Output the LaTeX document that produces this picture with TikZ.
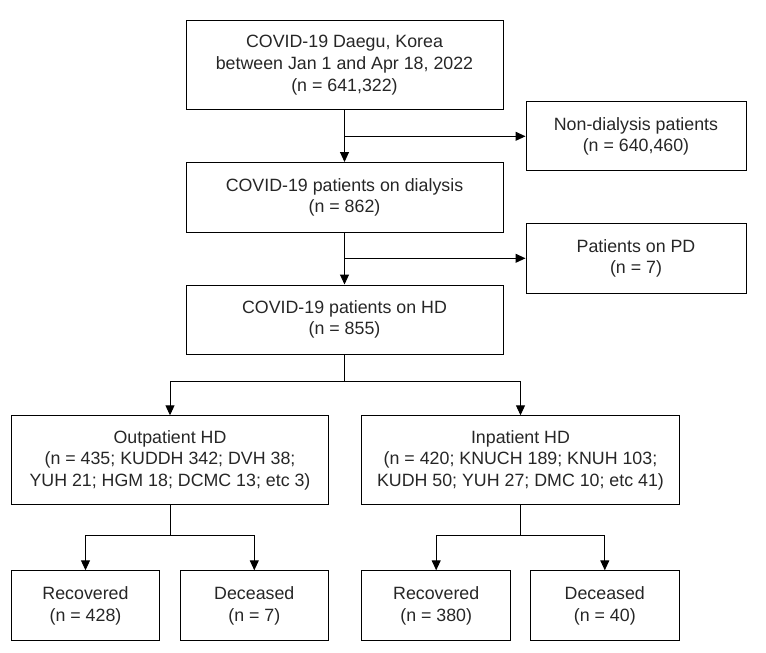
\documentclass[tikz,border=0pt]{standalone}
\usepackage{fontspec}
\setmainfont{Liberation Sans}
\usetikzlibrary{arrows.meta}
\begin{document}
\begin{tikzpicture}[x=1pt,y=-1pt,
  box/.style={draw, line width=1pt, align=center, inner sep=0pt,
    font=\fontsize{17.8}{21.7}\selectfont, text=black!85},
  arr/.style={line width=1pt, -{Triangle[length=10pt,width=9pt]}},
  ln/.style={line width=1pt}]
\useasboundingbox (0,0) rectangle (766,653);
\node[box, minimum width=317pt, minimum height=89pt] (top) at (344.5,65.3)
  {COVID-19 Daegu, Korea\\between Jan 1 and Apr 18, 2022\\(n = 641,322)};
\node[box, minimum width=220pt, minimum height=69pt] (nond) at (636,136.3)
  {Non-dialysis patients\\(n = 640,460)};
\node[box, minimum width=317pt, minimum height=70pt] (dial) at (344.5,197.5)
  {COVID-19 patients on dialysis\\(n = 862)};
\node[box, minimum width=220pt, minimum height=70pt] (pd) at (636,258.3)
  {Patients on PD\\(n = 7)};
\node[box, minimum width=317pt, minimum height=69pt] (hd) at (344.5,319.5)
  {COVID-19 patients on HD\\(n = 855)};
\node[box, minimum width=317pt, minimum height=89pt] (out) at (170,460.3)
  {Outpatient HD\\(n = 435; KUDDH 342; DVH 38;\\YUH 21; HGM 18; DCMC 13; etc 3)};
\node[box, minimum width=318pt, minimum height=89pt] (inp) at (520.5,460.3)
  {Inpatient HD\\(n = 420; KNUCH 189; KNUH 103;\\KUDH 50; YUH 27; DMC 10; etc 41)};
\node[box, minimum width=148pt, minimum height=70pt] (r1) at (85.5,605.8)
  {Recovered\\(n = 428)};
\node[box, minimum width=148pt, minimum height=70pt] (d1) at (254.3,605.8)
  {Deceased\\(n = 7)};
\node[box, minimum width=149pt, minimum height=70pt] (r2) at (436.2,605.8)
  {Recovered\\(n = 380)};
\node[box, minimum width=149pt, minimum height=70pt] (d2) at (604.8,605.8)
  {Deceased\\(n = 40)};
% main flow
\draw[arr] (top.south) -- (dial.north);
\coordinate (j1) at (top.south |- nond.west);
\draw[arr] (j1) -- (nond.west);
\draw[arr] (dial.south) -- (hd.north);
\coordinate (j2) at (dial.south |- pd.west);
\draw[arr] (j2) -- (pd.west);
% split HD
\draw[ln] (hd.south) -- ++(0,26.7) coordinate (j3);
\draw[arr] (j3) -| (out.north);
\draw[arr] (j3) -| (inp.north);
% outcomes
\draw[ln] (out.south) -- ++(0,30) coordinate (j4);
\draw[arr] (j4) -| (r1.north);
\draw[arr] (j4) -| (d1.north);
\draw[ln] (inp.south) -- ++(0,30) coordinate (j5);
\draw[arr] (j5) -| (r2.north);
\draw[arr] (j5) -| (d2.north);
\end{tikzpicture}
\end{document}
